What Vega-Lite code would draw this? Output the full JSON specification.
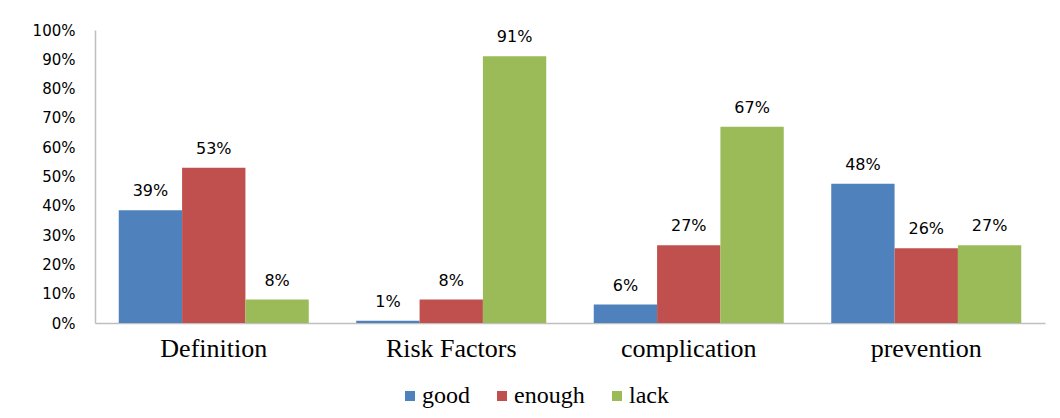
{
  "$schema": "https://vega.github.io/schema/vega-lite/v6.json",
  "width": 950,
  "height": 293,
  "autosize": {"type": "none"},
  "padding": {"left": 95, "top": 30, "right": 15, "bottom": 95},
  "background": "white",
  "config": {
    "view": {"stroke": null},
    "legend": {"labelFont": "Liberation Serif", "labelFontSize": 24, "labelColor": "#000000"}
  },
  "data": {
    "values": [
      {"topic": "Definition", "level": "good", "value": 0.385, "label": "39%"},
      {"topic": "Definition", "level": "enough", "value": 0.53, "label": "53%"},
      {"topic": "Definition", "level": "lack", "value": 0.08, "label": "8%"},
      {"topic": "Risk Factors", "level": "good", "value": 0.008, "label": "1%"},
      {"topic": "Risk Factors", "level": "enough", "value": 0.08, "label": "8%"},
      {"topic": "Risk Factors", "level": "lack", "value": 0.91, "label": "91%"},
      {"topic": "complication", "level": "good", "value": 0.063, "label": "6%"},
      {"topic": "complication", "level": "enough", "value": 0.265, "label": "27%"},
      {"topic": "complication", "level": "lack", "value": 0.67, "label": "67%"},
      {"topic": "prevention", "level": "good", "value": 0.475, "label": "48%"},
      {"topic": "prevention", "level": "enough", "value": 0.255, "label": "26%"},
      {"topic": "prevention", "level": "lack", "value": 0.265, "label": "27%"}
    ]
  },
  "encoding": {
    "x": {
      "field": "topic",
      "type": "nominal",
      "sort": ["Definition", "Risk Factors", "complication", "prevention"],
      "scale": {"paddingInner": 0.2, "paddingOuter": 0.1},
      "axis": {
        "title": null,
        "labelAngle": 0,
        "labelFont": "Liberation Serif",
        "labelFontSize": 26,
        "labelColor": "#000000",
        "labelPadding": 12,
        "ticks": false,
        "tickSize": 0,
        "domainColor": "#BFBFBF",
        "domainWidth": 1.5,
        "grid": false
      }
    },
    "xOffset": {
      "field": "level",
      "type": "nominal",
      "sort": ["good", "enough", "lack"],
      "scale": {"paddingInner": 0, "paddingOuter": 0}
    },
    "y": {
      "field": "value",
      "type": "quantitative",
      "scale": {"domain": [0, 1], "nice": false},
      "axis": {
        "title": null,
        "values": [0, 0.1, 0.2, 0.3, 0.4, 0.5, 0.6, 0.7, 0.8, 0.9, 1],
        "format": ".0%",
        "labelFont": "DejaVu Sans",
        "labelFontSize": 15,
        "labelColor": "#000000",
        "labelPadding": 20,
        "ticks": false,
        "tickSize": 0,
        "domainColor": "#BFBFBF",
        "domainWidth": 1.5,
        "grid": false
      }
    }
  },
  "layer": [
    {
      "mark": {"type": "bar"},
      "encoding": {
        "color": {
          "field": "level",
          "type": "nominal",
          "sort": ["good", "enough", "lack"],
          "scale": {"domain": ["good", "enough", "lack"], "range": ["#4F81BD", "#C0504D", "#9BBB59"]},
          "legend": {
            "title": null,
            "orient": "none",
            "legendX": 303,
            "legendY": 354,
            "direction": "horizontal",
            "symbolType": "square",
            "symbolSize": 100,
            "symbolStrokeWidth": 0,
            "labelFont": "Liberation Serif",
            "labelFontSize": 24,
            "labelColor": "#000000",
            "labelOffset": 0,
            "columnPadding": 20
          }
        }
      }
    },
    {
      "mark": {"type": "text", "baseline": "alphabetic", "dy": -14, "font": "DejaVu Sans", "fontSize": 16, "color": "#000000"},
      "encoding": {"text": {"field": "label"}}
    }
  ]
}
